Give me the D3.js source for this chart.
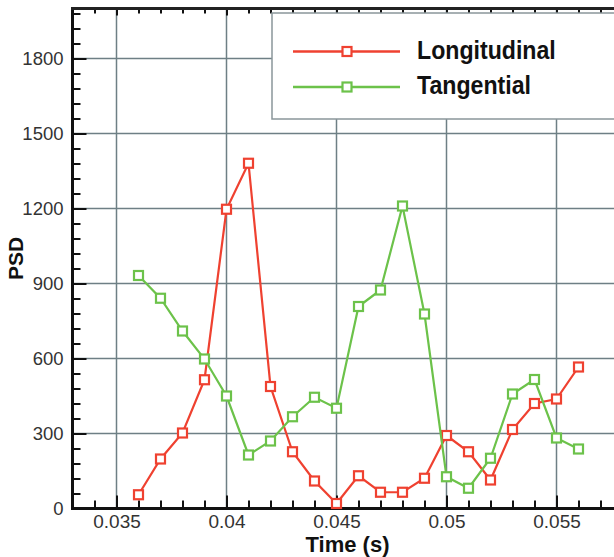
<!DOCTYPE html>
<html>
<head>
<meta charset="utf-8">
<script src="https://cdn.jsdelivr.net/npm/d3@7"></script>
<style>
  html, body { margin: 0; padding: 0; background: #fff; }
  svg { display: block; font-family: "Liberation Sans", Arial, sans-serif; }
</style>
</head>
<body>
<svg id="chart" width="614" height="557"></svg>
<script>
// ---- data ----
const times = [0.036, 0.037, 0.038, 0.039, 0.040, 0.041, 0.042, 0.043, 0.044, 0.045, 0.046,
               0.047, 0.048, 0.049, 0.050, 0.051, 0.052, 0.053, 0.054, 0.055, 0.056];
const longitudinal = [55, 198, 302, 515, 1197, 1381, 488, 227, 110, 20, 131,
                      65, 65, 121, 292, 227, 114, 316, 420, 438, 566];
const tangential = [932, 841, 710, 598, 450, 214, 270, 367, 445, 401, 808,
                    874, 1210, 778, 127, 81, 201, 458, 516, 282, 238];
const xMajorTicks = [0.035, 0.04, 0.045, 0.05, 0.055];
const xTickLabels = ["0.035", "0.04", "0.045", "0.05", "0.055"];
const yMajorTicks = [0, 300, 600, 900, 1200, 1500, 1800];
const seriesNames = ["Longitudinal", "Tangential"];
const seriesColors = ["#ef4130", "#6cc24a"];

// ---- layout ----
const svg = d3.select("#chart");
const pL = 72.5, pT = 8.5, pB = 508.5;
const x = d3.scaleLinear().domain([0.033, 0.058]).range([pL, pL + 550]);
const y = d3.scaleLinear().domain([0, 2000]).range([pB, pT]);
const pR = x(0.058);

const xMinor = d3.range(34, 58).map(d => d / 1000).filter(v => !xMajorTicks.some(t => Math.abs(t - v) < 1e-9));
const yMinor = d3.range(60, 2000, 60).filter(v => v % 300 !== 0);

// grid
const grid = svg.append("g");
grid.selectAll("line.vx").data(xMajorTicks).enter().append("line")
  .attr("x1", d => x(d)).attr("x2", d => x(d)).attr("y1", pT).attr("y2", pB)
  .attr("stroke", "#6e7f85").attr("stroke-width", 1.5);
grid.selectAll("line.hy").data(yMajorTicks.filter(d => d > 0)).enter().append("line")
  .attr("x1", pL).attr("x2", pR).attr("y1", d => y(d)).attr("y2", d => y(d))
  .attr("stroke", "#6e7f85").attr("stroke-width", 1.5);

// inward ticks via axes
function tickAxis(gen, sel) {
  sel.call(gen);
  sel.select(".domain").remove();
  sel.selectAll("text").remove();
  sel.selectAll("line").attr("stroke", "#111").attr("stroke-width", 2);
}
tickAxis(d3.axisRight(y).tickValues(yMajorTicks).tickSize(14),
  svg.append("g").attr("transform", `translate(${pL},0)`));
tickAxis(d3.axisRight(y).tickValues(yMinor).tickSize(8),
  svg.append("g").attr("transform", `translate(${pL},0)`));
tickAxis(d3.axisTop(x).tickValues(xMajorTicks).tickSize(13),
  svg.append("g").attr("transform", `translate(0,${pB})`));
tickAxis(d3.axisTop(x).tickValues(xMinor).tickSize(8),
  svg.append("g").attr("transform", `translate(0,${pB})`));
tickAxis(d3.axisBottom(x).tickValues(xMinor).tickSize(5),
  svg.append("g").attr("transform", `translate(0,${pT})`));
tickAxis(d3.axisBottom(x).tickValues(xMajorTicks).tickSize(7),
  svg.append("g").attr("transform", `translate(0,${pT})`));

// tick labels via axes
const yLab = svg.append("g").attr("transform", `translate(${pL},0)`)
  .call(d3.axisLeft(y).tickValues(yMajorTicks).tickSize(0).tickPadding(9).tickFormat(d3.format("d")));
yLab.select(".domain").remove();
yLab.selectAll("text").attr("font-size", 18.5).attr("fill", "#333").attr("font-family", "Liberation Sans, Arial, sans-serif");

const xLab = svg.append("g").attr("transform", `translate(0,${pB})`)
  .call(d3.axisBottom(x).tickValues(xMajorTicks).tickSize(0).tickPadding(6)
    .tickFormat((d, i) => xTickLabels[i]));
xLab.select(".domain").remove();
xLab.selectAll("text").attr("font-size", 19).attr("fill", "#333").attr("font-family", "Liberation Sans, Arial, sans-serif");

// frame lines
svg.append("line").attr("x1", pL).attr("x2", pL).attr("y1", pT - 1.5).attr("y2", pB + 1.5)
  .attr("stroke", "#111").attr("stroke-width", 3);
svg.append("line").attr("x1", pL - 1.5).attr("x2", pR).attr("y1", pB).attr("y2", pB)
  .attr("stroke", "#111").attr("stroke-width", 3);
svg.append("line").attr("x1", pL - 1.5).attr("x2", pR).attr("y1", pT).attr("y2", pT)
  .attr("stroke", "#222").attr("stroke-width", 3);

// axis titles
svg.append("text").attr("x", (pL + pR) / 2).attr("y", 552).attr("text-anchor", "middle")
  .attr("font-size", 22).attr("font-weight", "bold").attr("fill", "#111").text("Time (s)");
svg.append("text").attr("transform", `translate(23,${(pT + pB) / 2}) rotate(-90)`)
  .attr("text-anchor", "middle").attr("font-size", 21).attr("font-weight", "bold").attr("fill", "#111").text("PSD");

// series
const allSeries = [longitudinal, tangential];
const line = d3.line().x((d, i) => x(times[i])).y(d => y(d));
allSeries.forEach((vals, s) => {
  svg.append("path").datum(vals).attr("d", line).attr("fill", "none")
    .attr("stroke", seriesColors[s]).attr("stroke-width", 2.2);
  svg.selectAll(null).data(vals).enter().append("rect")
    .attr("x", (d, i) => x(times[i]) - 4.5).attr("y", d => y(d) - 4.5)
    .attr("width", 9).attr("height", 9)
    .attr("fill", "#fff").attr("stroke", seriesColors[s]).attr("stroke-width", 2.2);
});

// legend
svg.append("rect").attr("x", 272).attr("y", 13).attr("width", 360).attr("height", 106)
  .attr("fill", "#fff").attr("stroke", "#8a969a").attr("stroke-width", 1.5);
const legY = [51.5, 87];
seriesNames.forEach((name, s) => {
  svg.append("line").attr("x1", 293).attr("x2", 400).attr("y1", legY[s]).attr("y2", legY[s])
    .attr("stroke", seriesColors[s]).attr("stroke-width", 2.5);
  svg.append("rect").attr("x", 342.5).attr("y", legY[s] - 4.5).attr("width", 9).attr("height", 9)
    .attr("fill", "#fff").attr("stroke", seriesColors[s]).attr("stroke-width", 2.2);
  svg.append("text").attr("transform", `translate(417,${legY[s] + 7}) scale(0.89,1)`)
    .attr("font-size", 26).attr("font-weight", "bold").attr("fill", "#111").text(name);
});
</script>
</body>
</html>
